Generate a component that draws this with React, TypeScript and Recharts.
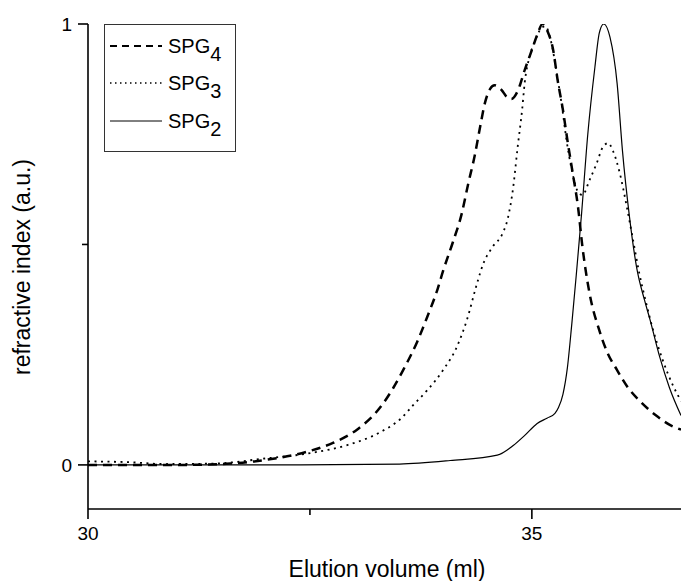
import { LineChart, Line, XAxis, YAxis, Legend } from 'recharts'

// elution volume (ml) and normalised refractive index
const spg4Volume = [30.0, 30.5, 31.04, 31.6, 32.02, 32.47, 32.76, 33.03, 33.29, 33.44, 33.55, 33.71, 33.82, 33.94, 34.0, 34.11, 34.21, 34.28, 34.36, 34.42, 34.47, 34.53, 34.58, 34.66, 34.72, 34.77, 34.84, 34.92, 35.0, 35.06, 35.12, 35.18, 35.24, 35.29, 35.35, 35.4, 35.46, 35.52, 35.57, 35.65, 35.76, 35.85, 35.96, 36.08, 36.21, 36.4, 36.58, 36.68]
const spg4Signal = [0.0, 0.0, 0.0, 0.003, 0.012, 0.03, 0.05, 0.08, 0.13, 0.175, 0.215, 0.28, 0.335, 0.4, 0.44, 0.505, 0.57, 0.635, 0.705, 0.77, 0.82, 0.853, 0.861, 0.85, 0.834, 0.83, 0.848, 0.896, 0.941, 0.975, 1.0, 0.982, 0.941, 0.873, 0.805, 0.737, 0.662, 0.585, 0.494, 0.389, 0.305, 0.255, 0.215, 0.176, 0.146, 0.112, 0.088, 0.08]

const spg3Volume = [30.0, 30.48, 30.85, 31.41, 31.97, 32.54, 32.92, 33.29, 33.54, 33.66, 33.82, 34.0, 34.16, 34.27, 34.38, 34.45, 34.56, 34.67, 34.73, 34.79, 34.84, 34.89, 34.92, 34.98, 35.03, 35.09, 35.15, 35.22, 35.28, 35.34, 35.39, 35.45, 35.51, 35.57, 35.65, 35.73, 35.8, 35.86, 35.91, 35.99, 36.07, 36.14, 36.21, 36.29, 36.36, 36.47, 36.59, 36.68]
const spg3Signal = [0.008, 0.006, 0.002, 0.003, 0.014, 0.028, 0.045, 0.074, 0.108, 0.135, 0.169, 0.215, 0.27, 0.33, 0.41, 0.455, 0.495, 0.525, 0.56, 0.63, 0.721, 0.805, 0.868, 0.93, 0.959, 0.986, 0.995, 0.957, 0.889, 0.812, 0.737, 0.669, 0.623, 0.612, 0.646, 0.684, 0.721, 0.73, 0.714, 0.662, 0.585, 0.51, 0.435, 0.365, 0.31, 0.24, 0.18, 0.145]

const spg2Volume = [30.0, 31.5, 32.39, 33.51, 34.08, 34.61, 34.79, 34.92, 35.06, 35.17, 35.26, 35.3, 35.35, 35.4, 35.45, 35.5, 35.56, 35.63, 35.71, 35.76, 35.81, 35.88, 35.96, 36.02, 36.1, 36.18, 36.27, 36.33, 36.44, 36.55, 36.68]
const spg2Signal = [0.0, 0.0, 0.0, 0.002, 0.01, 0.022, 0.044, 0.067, 0.094, 0.106, 0.117, 0.13, 0.16, 0.22, 0.32, 0.43, 0.57, 0.75, 0.902, 0.98, 1.0, 0.97, 0.866, 0.714, 0.562, 0.448, 0.373, 0.33, 0.245, 0.175, 0.112]

const xTicks = [30, 32.5, 35]
const yTicks = [0, 0.5, 1]
const xLabels: Record<number, string> = { 30: '30', 35: '35' }
const yLabels: Record<number, string> = { 0: '0', 1: '1' }

const toPoints = (vol: number[], sig: number[]) => vol.map((v, i) => ({ v, s: sig[i] }))

const spg4 = toPoints(spg4Volume, spg4Signal)
const spg3 = toPoints(spg3Volume, spg3Signal)
const spg2 = toPoints(spg2Volume, spg2Signal)

const FONT = '"Liberation Sans", Arial, sans-serif'

function YTick(props: any) {
    const { x, y, payload } = props
    const len = yLabels[payload.value] ? 10 : 6
    const axisX = x + 16
    return (
        <g>
            <line x1={axisX - len} y1={y} x2={axisX} y2={y} stroke="#000" strokeWidth={1.6} />
            <text x={x} y={y} dy="0.35em" textAnchor="end" fontSize={19} fontFamily={FONT} fill="#000">
                {yLabels[payload.value] ?? ''}
            </text>
        </g>
    )
}

function XTick(props: any) {
    const { x, y, payload } = props
    const len = xLabels[payload.value] ? 10 : 6
    const axisY = y - 10
    return (
        <g>
            <line x1={x} y1={axisY} x2={x} y2={axisY + len} stroke="#000" strokeWidth={1.6} />
            <text x={x} y={y + 20.5} textAnchor="middle" fontSize={19} fontFamily={FONT} fill="#000">
                {xLabels[payload.value] ?? ''}
            </text>
        </g>
    )
}

function LegendBox() {
    const rows = [
        { name: '4', y: 22, dash: '7 5', width: 2 },
        { name: '3', y: 59, dash: '1.5 3.5', width: 1.5 },
        { name: '2', y: 97, dash: undefined, width: 1 },
    ]
    return (
        <svg width={132} height={128} style={{ display: 'block' }}>
            <rect x={0.5} y={0.5} width={131} height={127} fill="#fff" stroke="#333" strokeWidth={1} />
            {rows.map(r => (
                <g key={r.name}>
                    <line x1={6} y1={r.y} x2={58} y2={r.y} stroke="#000" strokeWidth={r.width} strokeDasharray={r.dash} />
                    <text x={64} y={r.y + 7} fontSize={20} fontFamily={FONT} fill="#000">
                        SPG<tspan dy={8}>{r.name}</tspan>
                    </text>
                </g>
            ))}
        </svg>
    )
}

export default function App() {
    return (
        <div style={{ position: 'fixed', left: 0, top: 0, background: '#fff' }}>
            <LineChart width={681} height={581} margin={{ top: 24, right: 0, bottom: 0, left: 0 }}>
                <XAxis
                    type="number"
                    dataKey="v"
                    domain={[30, 36.68]}
                    ticks={xTicks}
                    allowDataOverflow
                    height={72}
                    tickSize={10}
                    tickMargin={0}
                    tickLine={false}
                    tick={<XTick />}
                    axisLine={{ stroke: '#000', strokeWidth: 1.6 }}
                    label={{
                        content: () => (
                            <text x={387} y={577} textAnchor="middle" fontSize={23} fontFamily={FONT} fill="#000">
                                Elution volume (ml)
                            </text>
                        ),
                    }}
                />
                <YAxis
                    type="number"
                    domain={[-0.1, 1]}
                    ticks={yTicks}
                    allowDataOverflow
                    width={88}
                    tickSize={10}
                    tickMargin={6}
                    tickLine={false}
                    tick={<YTick />}
                    axisLine={{ stroke: '#000', strokeWidth: 1.6 }}
                    label={{
                        content: () => (
                            <text
                                x={22}
                                y={267}
                                transform="rotate(-90 22 267)"
                                textAnchor="middle"
                                dominantBaseline="central"
                                fontSize={23}
                                fontFamily={FONT}
                                fill="#000"
                            >
                                refractive index (a.u.)
                            </text>
                        ),
                    }}
                />
                <Legend
                    layout="vertical"
                    align="center"
                    verticalAlign="middle"
                    content={() => <LegendBox />}
                    wrapperStyle={{ position: 'absolute', left: 104, top: 24, width: 132, height: 128 }}
                />
                <Line data={spg4} dataKey="s" type="monotone" stroke="#000" strokeWidth={2.5} strokeDasharray="9 6" dot={false} isAnimationActive={false} />
                <Line data={spg3} dataKey="s" type="monotone" stroke="#000" strokeWidth={1.8} strokeDasharray="2 4.5" dot={false} isAnimationActive={false} />
                <Line data={spg2} dataKey="s" type="monotone" stroke="#000" strokeWidth={1.2} dot={false} isAnimationActive={false} />
            </LineChart>
        </div>
    )
}
